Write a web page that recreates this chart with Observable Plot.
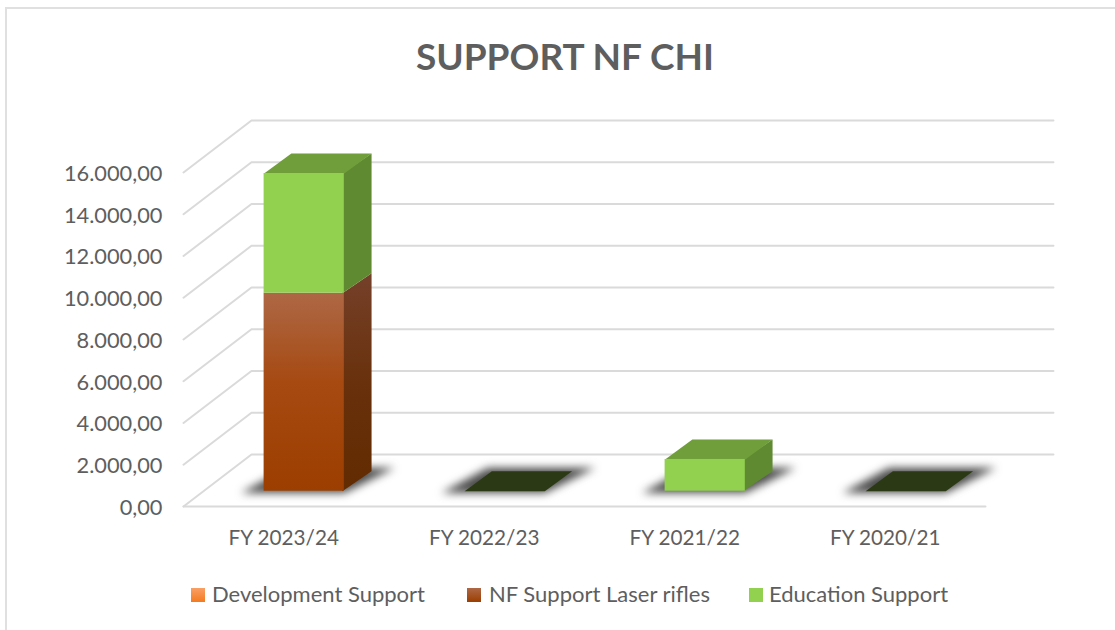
<!DOCTYPE html>
<html>
<head>
<meta charset="utf-8">
<script src="https://cdn.jsdelivr.net/npm/d3@7"></script>
<script src="https://cdn.jsdelivr.net/npm/@observablehq/plot@0.6"></script>
<style>
html,body{margin:0;padding:0;background:#fff;overflow:hidden}
#chart{position:relative;width:1115px;height:630px;font-family:Lato,sans-serif;color:#5e5e5e}
#frame{position:absolute;left:5px;top:7px;right:-5px;bottom:-5px;border-top:2px solid #e0e0e0;border-left:2px solid #e0e0e0;pointer-events:none}
#title{height:100px;box-sizing:border-box;padding-top:33px;padding-left:15px;text-align:center;font-size:37px;font-weight:700;line-height:46px}
#plot{height:470px}
#plot svg{display:block;background:none}
#legend{position:relative;height:60px;font-size:22px}
#legend span.k{position:absolute;top:18px;width:14px;height:14px}
#legend span.t{position:absolute;top:11px;line-height:26px;white-space:nowrap}
</style>
</head>
<body>
<div id="chart">
<div id="frame"></div>
<div id="title">SUPPORT NF CHI</div>
<div id="plot"></div>
<div id="legend"></div>
</div>
<script>
// Data
const categories = ["FY 2023/24", "FY 2022/23", "FY 2021/22", "FY 2020/21"];
const developmentSupport = [0, 0, 0, 0];
const nfSupportLaserRifles = [9485, 0, 0, 0];
const educationSupport = [5735, 0, 1520, 0];
const yTicks = [0, 2000, 4000, 6000, 8000, 10000, 12000, 14000, 16000];
const seriesNames = ["Development Support", "NF Support Laser rifles", "Education Support"];

// Pseudo-3D projection, in scale units
const wallDx = 0.339, wallDy = 2490;
const barLeft = 0.402, barWidth = 0.4, barBase = 733, depthDx = 0.136, depthDy = 958;

const poly = (pts, fill, extra = {}) =>
  Plot.line(pts, {x: "x", y: "y", fill, stroke: "none", curve: "linear", ...extra});
const P = (x, y) => ({x, y});

const defs = () => {
  const g = document.createElementNS("http://www.w3.org/2000/svg", "defs");
  g.innerHTML = `
  <linearGradient id="brownFront" x1="0" y1="0" x2="0" y2="1">
    <stop offset="0" stop-color="#ae6845"/><stop offset="0.45" stop-color="#a64a12"/><stop offset="1" stop-color="#9c3e00"/>
  </linearGradient>
  <linearGradient id="brownSide" x1="0" y1="0" x2="0" y2="1">
    <stop offset="0" stop-color="#75402a"/><stop offset="0.5" stop-color="#69310c"/><stop offset="1" stop-color="#622b00"/>
  </linearGradient>`;
  return g;
};

const blur = (i, s, v, d, c, next) => {
  const g = next(i, s, v, d, c);
  g.style.filter = "blur(4px)";
  return g;
};

// Walls and floor
const wallLines = [];
yTicks.forEach(v => {
  wallLines.push({x: 0, y: v, id: v}, {x: wallDx, y: v + wallDy, id: v}, {x: 4 + wallDx, y: v + wallDy, id: v});
});
const floorFront = [P(0, 0), P(4, 0)];

// Bars
const shadowMarks = [], faceMarks = [], frontRects = [];
categories.forEach((_, i) => {
  const L = i + barLeft, R = L + barWidth;
  const stack = [
    {v: developmentSupport[i], front: "#f47a1f", side: "#a8531a", top: "#c0621c"},
    {v: nfSupportLaserRifles[i], front: "url(#brownFront)", side: "url(#brownSide)", top: "#7a3a18"},
    {v: educationSupport[i], front: "#92d050", side: "#5f8a32", top: "#6f9e3a"}
  ];
  shadowMarks.push(poly([
    P(L - 0.115, barBase - 90),
    P(R, barBase - 90),
    P(R + depthDx + 0.115, barBase + depthDy + 170),
    P(L + depthDx - 0.02, barBase + depthDy + 170)
  ], "#383838", {fillOpacity: 0.9, render: blur}));
  let base = barBase, total = 0;
  stack.forEach(s => {
    if (!s.v) return;
    const t = base + s.v;
    faceMarks.push(poly([P(R - 0.01, base), P(R + depthDx, base + depthDy), P(R + depthDx, t + depthDy), P(R - 0.01, t)], s.side));
    frontRects.push({x1: L, x2: R, y1: base, y2: t, fill: s.front});
    base = t; total += s.v;
  });
  const topColor = total ? stack.filter(s => s.v).pop().top : "#2b3a14";
  faceMarks.push(poly([P(L, base), P(R, base), P(R + depthDx, base + depthDy), P(L + depthDx, base + depthDy)], topColor));
});

const numberFmt = v => v.toLocaleString("de-DE", {minimumFractionDigits: 2, maximumFractionDigits: 2});

const chart = Plot.plot({
  width: 1115,
  height: 470,
  marginLeft: 183, marginRight: 130, marginTop: 20, marginBottom: 64,
  style: {background: "none", fontFamily: "Lato, sans-serif", color: "#5e5e5e"},
  x: {type: "linear", domain: [0, 4], range: [183, 985]},
  y: {type: "linear", domain: [0, 16000], range: [406, 72]},
  marks: [
    defs,
    Plot.line(wallLines, {x: "x", y: "y", z: "id", stroke: "#dadada", strokeWidth: 2, curve: "linear"}),
    Plot.line(floorFront, {x: "x", y: "y", stroke: "#dadada", strokeWidth: 2}),
    ...shadowMarks,
    ...faceMarks,
    Plot.rect(frontRects, {x1: "x1", x2: "x2", y1: "y1", y2: "y2", fill: d => d.fill}),
    Plot.axisY({ticks: yTicks, tickFormat: numberFmt, tickSize: 0, tickPadding: 21, fontSize: 21.8, dy: 1.5, label: null, fill: "#5e5e5e"}),
    Plot.axisX({ticks: categories.map((_, i) => i + 0.5), tickFormat: v => categories[Math.round(v - 0.5)], tickSize: 0, tickPadding: 23.5, fontSize: 20.7, label: null, fill: "#5e5e5e"})
  ]
});
document.getElementById("plot").appendChild(chart);

// Legend
const swatches = [
  {left: 191, bg: "linear-gradient(#f9a066,#f47a1f)", textLeft: 212},
  {left: 467, bg: "linear-gradient(#ae6845,#9c3e00)", textLeft: 489},
  {left: 749, bg: "#92d050", textLeft: 769}
];
const legend = document.getElementById("legend");
seriesNames.forEach((name, i) => {
  const k = document.createElement("span");
  k.className = "k"; k.style.left = swatches[i].left + "px"; k.style.background = swatches[i].bg;
  const t = document.createElement("span");
  t.className = "t"; t.style.left = swatches[i].textLeft + "px"; t.textContent = name;
  legend.append(k, t);
});
</script>
</body>
</html>
